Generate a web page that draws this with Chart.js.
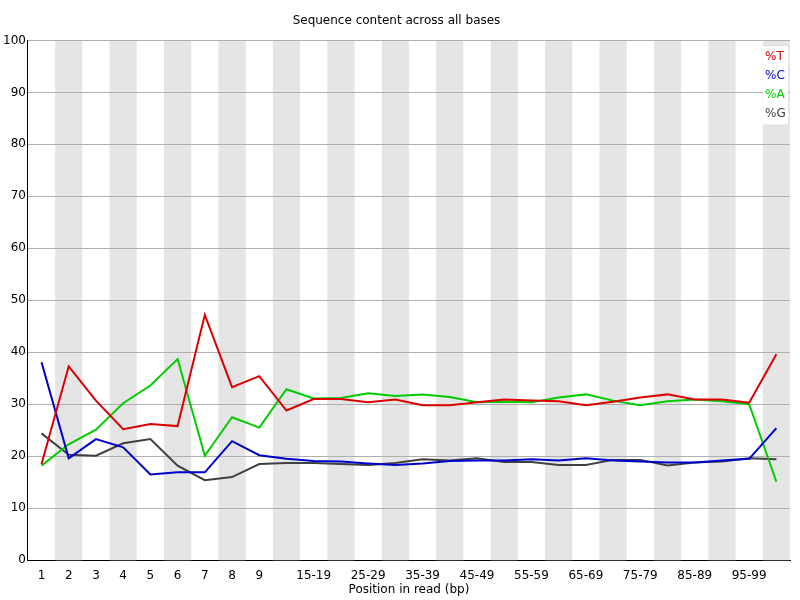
<!DOCTYPE html>
<html>
<head>
<style>
body { margin: 0; background: #fff; }
#wrap { width: 800px; height: 600px; }
</style>
<script src="https://cdn.jsdelivr.net/npm/chart.js"></script>
</head>
<body>
<div id="wrap"><canvas id="c"></canvas></div>
<script>
const positions = ['1','2','3','4','5','6','7','8','9','10-14','15-19','20-24','25-29','30-34','35-39','40-44','45-49','50-54','55-59','60-64','65-69','70-74','75-79','80-84','85-89','90-94','95-99','100-101'];
const pctT = [18.5,37.3,30.7,25.2,26.2,25.8,47.2,33.3,35.4,28.8,31.0,31.0,30.4,30.9,29.8,29.8,30.4,30.9,30.7,30.6,29.8,30.5,31.3,31.9,30.9,30.9,30.3,39.6];
const pctC = [38.1,19.6,23.3,21.7,16.5,16.9,16.9,22.9,20.2,19.5,19.1,19.0,18.6,18.3,18.6,19.1,19.2,19.2,19.4,19.2,19.6,19.2,19.0,18.8,18.8,19.2,19.5,25.4];
const pctA = [18.2,22.3,25.1,30.2,33.6,38.7,20.1,27.5,25.5,32.9,31.1,31.2,32.1,31.6,31.9,31.4,30.4,30.5,30.4,31.3,31.9,30.7,29.8,30.6,30.9,30.6,30.0,15.1];
const pctG = [24.4,20.3,20.1,22.5,23.3,18.2,15.4,16.0,18.5,18.7,18.7,18.5,18.3,18.7,19.4,19.2,19.6,18.9,18.9,18.3,18.3,19.3,19.3,18.2,18.8,19.0,19.6,19.4];
const seriesNames = ['%T','%C','%A','%G'];
const seriesColors = ['#dd0000','#0000cc','#00cc00','#404040'];

Chart.defaults.font.family = 'DejaVu Sans';
Chart.defaults.font.size = 12;
Chart.defaults.color = '#000';

// alternating grey bands behind the lines
const bands = {
    id: 'bands',
    beforeDatasetsDraw(chart) {
        const x = chart.scales.x, a = chart.chartArea, ctx = chart.ctx;
        const w = (a.right - a.left) / positions.length;
        ctx.save();
        ctx.fillStyle = '#e5e5e5';
        positions.forEach((p, i) => {
            if (i % 2 === 1) {
                const cx = x.getPixelForValue(i);
                ctx.fillRect(cx - w / 2, a.top, w, a.bottom - a.top);
            }
        });
        const y = chart.scales.y;
        ctx.strokeStyle = '#b0b0b0';
        ctx.lineWidth = 1;
        for (let v = 10; v <= 100; v += 10) {
            const py = Math.round(y.getPixelForValue(v)) + 0.5;
            ctx.beginPath(); ctx.moveTo(a.left, py); ctx.lineTo(a.right, py); ctx.stroke();
        }
        ctx.restore();
    },
    afterDraw(chart) {
        const a = chart.chartArea, ctx = chart.ctx;
        ctx.save();
        ctx.fillStyle = '#fff';
        ctx.fillRect(a.right - 27, a.top + 6, 25, 78);
        ctx.font = '12px DejaVu Sans';
        ctx.textBaseline = 'middle';
        seriesNames.forEach((n, i) => {
            ctx.fillStyle = seriesColors[i];
            ctx.fillText(n, a.right - 25, a.top + 16 + i * 19);
        });
        ctx.restore();
    }
};

new Chart(document.getElementById('c'), {
    type: 'line',
    data: {
        labels: positions,
        datasets: [pctT, pctC, pctA, pctG].map((d, i) => ({
            label: seriesNames[i],
            data: d,
            borderColor: seriesColors[i],
            borderWidth: 2,
            pointRadius: 0,
            tension: 0,
            fill: false
        }))
    },
    options: {
        responsive: true,
        maintainAspectRatio: false,
        animation: false,
        layout: { padding: { left: 3, right: 10, top: 4, bottom: 3 } },
        scales: {
            x: {
                offset: true,
                grid: { display: false },
                border: { color: '#000' },
                ticks: {
                    autoSkip: false,
                    maxRotation: 0,
                    padding: 0,
                    callback: (v, i) => (i < 9 || (i % 2 === 0 && i < 27)) ? positions[i] : ''
                },
                title: { display: true, text: 'Position in read (bp)', padding: 0 }
            },
            y: {
                min: 0, max: 100,
                ticks: { stepSize: 10, padding: 0 },
                grid: { display: false, tickLength: 2 },
                border: { color: '#000' }
            }
        },
        plugins: {
            legend: { display: false },
            tooltip: { enabled: false },
            title: { display: true, text: 'Sequence content across all bases', font: { size: 12, weight: 'normal' }, padding: { top: 10, bottom: 12 } }
        }
    },
    plugins: [bands]
});
</script>
</body>
</html>
